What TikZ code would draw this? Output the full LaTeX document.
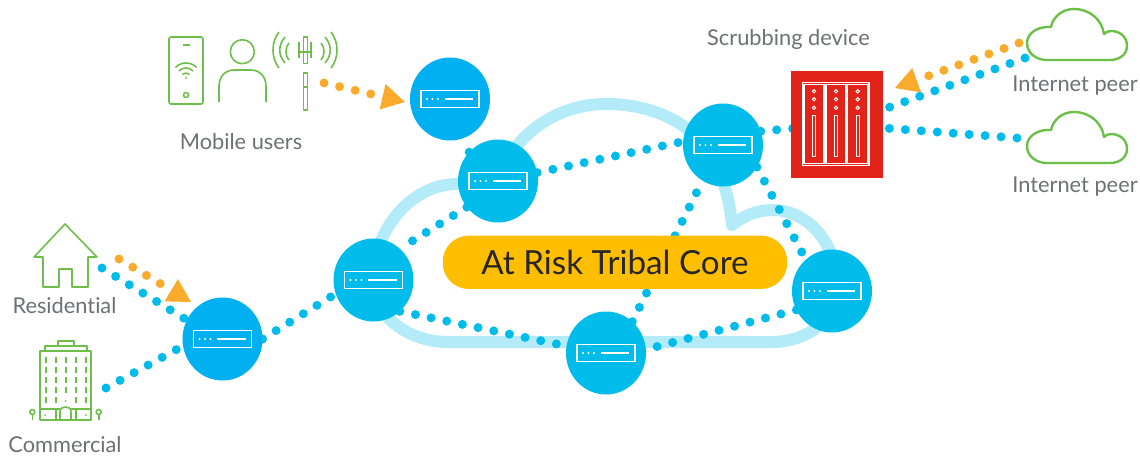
\documentclass[tikz,border=0pt]{standalone}
\usepackage{fontspec}
\setmainfont[Ligatures=NoCommon]{Lato}
\usetikzlibrary{arrows.meta,shapes.geometric,backgrounds}
\definecolor{hubblue}{HTML}{00B0F0}
\definecolor{coreblue}{HTML}{00BCEB}
\definecolor{cloudblue}{HTML}{B3EBF9}
\definecolor{attack}{HTML}{FBAB2C}
\definecolor{pillyellow}{HTML}{FFBE00}
\definecolor{scrubred}{HTML}{E2231A}
\definecolor{icongreen}{HTML}{6EBE4A}
\definecolor{labelgray}{HTML}{6E7074}
\tikzset{
    router/.style={draw=none,ellipse,minimum width=80pt,minimum height=83pt,inner sep=0pt,outer sep=0pt},
    caption/.style={text=labelgray,font=\fontsize{21.8}{24}\selectfont,inner sep=0pt},
    icon/.style={draw=icongreen,line width=1.6pt,line join=round},
    bluedots/.style={draw=coreblue,line width=9pt,line cap=round,dash pattern=on 0pt off 16pt},
    orangedots/.style={draw=attack,line width=9pt,line cap=round,dash pattern=on 0pt off 16pt,
        -{Triangle[length=23pt,width=26pt,fill=attack,line width=0pt]}},
    routerface/.pic={
        \draw[white,line width=1.2pt] (-29,-8.5) rectangle (29,8.5);
        \draw[white,line width=1.2pt] (-5.5,0) -- (23,0);
        \foreach \dx in {-23,-17.5,-12} \fill[white] (\dx,0) circle[radius=1.1pt];
    },
    peercloud/.pic={
        \draw[draw=icongreen,line width=2.4pt,line join=round] (20,0) -- (83,0)
            .. controls (93,0) and (100,-6) .. (100,-14)
            .. controls (100,-24) and (92,-29) .. (84,-29)
            .. controls (81,-29) and (79,-28) .. (77,-26)
            .. controls (75,-40) and (63,-51) .. (47,-51)
            .. controls (35,-51) and (26,-43) .. (24,-33)
            .. controls (11,-34) and (0,-27) .. (0,-17)
            .. controls (0,-7) and (9,0) .. (20,0) -- cycle;
    },
    bladeslot/.pic={
        \draw[white,line width=1.1pt] (-10,-39.5) rectangle (10,39.5);
        \foreach \dy in {-32.5,-24.5,-16}
            \draw[white,line width=1pt,fill=scrubred] (0,\dy) circle[radius=1.7pt];
        \draw[white,line width=1.1pt] (-1.5,-8) rectangle (1.5,33);
    },
}
\begin{document}
\begin{tikzpicture}[x=1pt,y=-1pt]
    \useasboundingbox (0,0) rectangle (1140,456);

    % routers
    \node[router,fill=hubblue] (mobilehub) at (450,99) {};
    \node[router,fill=hubblue] (accesshub) at (222.5,339) {};
    \node[router,fill=coreblue] (corenw) at (498,181) {};
    \node[router,fill=coreblue] (corene) at (723,145) {};
    \node[router,fill=coreblue] (corew) at (373.5,280) {};
    \node[router,fill=coreblue] (coree) at (832,291) {};
    \node[router,fill=coreblue] (cores) at (606,353) {};
    \foreach \r in {mobilehub,accesshub,corenw,corene,corew,coree,cores}
        \pic at (\r) {routerface};

    \node[fill=pillyellow,rounded corners=26pt,minimum width=344.5pt,minimum height=53.3pt,
        inner sep=0pt,text=black!85,font=\fontsize{33.2}{38}\selectfont] (core) at (615,262.3) {At Risk Tribal Core};

    % scrubbing device
    \node[fill=scrubred,minimum width=92pt,minimum height=107pt,inner sep=0pt,outer sep=0pt] (scrubber) at (837,124.5) {};
    \draw[white,line width=1.1pt] (802.3,82.3) rectangle (869,165.7);
    \pic at (814,123.8) {bladeslot};
    \pic at (836,123.8) {bladeslot};
    \pic at (857.7,123.8) {bladeslot};

    % free ends at the icons
    \coordinate (homeblue) at (102,268);
    \coordinate (homeorange) at (119,259);
    \coordinate (officeblue) at (106,388);
    \coordinate (towerorange) at (324,83);
    \coordinate (peeraorange) at (1019,43);
    \coordinate (peerablue) at (1025,58);
    \coordinate (peerbblue) at (1017,138);
    \coordinate (towertip) at (405,102);
    \coordinate (hometip) at (191,302);
    \coordinate (peertip) at (895,88);

    \begin{scope}[on background layer]
        \draw[cloudblue,line width=12pt,line join=round] (448,342) -- (772,342)
            .. controls (808,342) and (838,318) .. (838,288)
            .. controls (838,245) and (808,210) .. (773,210)
            .. controls (757,210) and (743,216) .. (732,225)
            .. controls (730,205) and (726,185) .. (716,165)
            .. controls (698,125) and (655,104) .. (606,104)
            .. controls (565,104) and (530,125) .. (510,155)
            -- (470,184) -- (457,184)
            .. controls (420,184) and (385,215) .. (375,260)
            -- (373,285)
            .. controls (376,318) and (410,342) .. (448,342) -- cycle;
        \draw[bluedots] (corenw.220) -- (corew.50);
        \draw[bluedots] (corenw.12) -- (corene.175);
        \draw[bluedots] (corene.20) -- (scrubber.center);
        \draw[bluedots] (corene.-33) -- (coree.130);
        \draw[bluedots] (cores.50) -- (corene.240);
        \draw[bluedots] (corew.-50) -- (cores.170);
        \draw[bluedots] (coree.208) -- (cores.5);
        \draw[bluedots] (accesshub.0) -- (corew.200);
        \draw[bluedots] (homeblue) -- (accesshub.152);
        \draw[bluedots] (officeblue) -- (accesshub.190);
        \draw[bluedots] (corenw.135) -- (mobilehub);
        \draw[bluedots] (peerablue) -- (scrubber.18);
        \draw[bluedots] (peerbblue) -- (scrubber.center);
    \end{scope}
    \draw[orangedots] (towerorange) -- (towertip);
    \draw[orangedots] (homeorange) -- (hometip);
    \draw[orangedots] (peeraorange) -- (peertip);

    % phone
    \draw[icon,rounded corners=2pt] (169,37) rectangle (203,104);
    \draw[icon] (183,45) -- (190,45);
    \draw[icon] (186,95) circle[radius=2.5pt];
    \fill[icongreen] (186,78) circle[radius=1.2pt];
    \foreach \rad in {5,10,15}
        \draw[icon] (186,78) ++(45:\rad pt) arc[start angle=45,end angle=135,radius=\rad pt];

    % person
    \draw[icon] (242.3,51.7) circle[radius=12pt];
    \draw[icon] (219,102) -- (219,86) .. controls (219,77) and (225,70) .. (234,70) -- (251,70)
        .. controls (260,70) and (266,77) .. (266,86) -- (266,102);

    % tower
    \draw[icon] (303.3,36.7) rectangle (307.3,63.3);
    \draw[icon] (303.3,72.7) rectangle (307.3,110);
    \draw[icon] (303.3,86.7) -- (307.3,86.7);
    \draw[icon] (299,42) -- (299,58) (311,42) -- (311,58) (299,52) -- (311,52);
    \foreach \side in {-1,1}{
        \draw[icon] ({305+\side*26},32) .. controls ({305+\side*34},42) and ({305+\side*34},58) .. ({305+\side*26},68);
        \draw[icon] ({305+\side*20},37) .. controls ({305+\side*27},45) and ({305+\side*27},55) .. ({305+\side*20},63);
        \draw[icon] ({305+\side*16},43) .. controls ({305+\side*20},47) and ({305+\side*20},56) .. ({305+\side*16},60);
    }

    % house
    \draw[icon] (65,224) -- (97,257) -- (88,257) -- (88,287) -- (72,287) -- (72,269) -- (59,269) -- (59,287)
        -- (43,287) -- (43,257) -- (34,257) -- cycle;

    % office
    \draw[icon] (58,346) -- (58,341) -- (74,341) -- (74,346);
    \draw[icon] (45,351) -- (45,346) -- (87,346) -- (87,351);
    \draw[icon] (40,351) rectangle (91,420);
    \draw[icon] (40,409) -- (60,409) (71,409) -- (91,409);
    \draw[icon] (56,409) -- (56,420) (76,409) -- (76,420);
    \draw[icon] (60,420) -- (60,412) .. controls (60,408) and (63,407) .. (65.5,407) .. controls (68,407) and (71,408) .. (71,412) -- (71,420);
    \foreach \wx in {45.7,55.7,65.7,76,86}
        \foreach \wy in {357,367,377,387}
            \draw[draw=icongreen,line width=2pt] (\wx,\wy) -- (\wx,\wy+6);
    \foreach \wx in {45.7,55.7,76,86}
        \draw[draw=icongreen,line width=2pt] (\wx,397) -- (\wx,403);
    \fill[icongreen] (65.7,401) circle[radius=1pt] (45,415) circle[radius=1pt] (86,415) circle[radius=1pt];
    \foreach \tx in {32.3,98.7}{
        \draw[icon] (\tx,412) circle[radius=2.5pt];
        \draw[icon] (\tx,414.5) -- (\tx,420);
    }

    % peers
    \pic at (1027,60) {peercloud};
    \pic at (1027,163) {peercloud};

    % labels
    \node[caption] (mobilelabel) at (241,142) {Mobile users};
    \node[caption] (scrublabel) at (788.5,39.5) {Scrubbing device};
    \node[caption] (peeralabel) at (1075,86) {Internet peer};
    \node[caption] (peerblabel) at (1075,187) {Internet peer};
    \node[caption] (homelabel) at (64.5,305.5) {Residential};
    \node[caption] (officelabel) at (65,445) {Commercial};
\end{tikzpicture}
\end{document}
